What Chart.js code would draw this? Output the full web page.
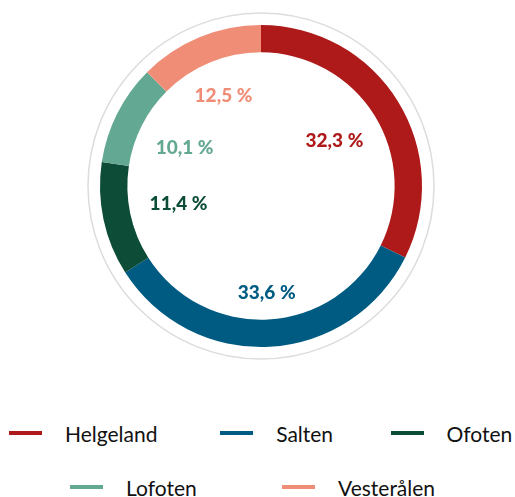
<!DOCTYPE html>
<html>
<head>
<meta charset="utf-8">
<script src="https://cdn.jsdelivr.net/npm/chart.js@4"></script>
<style>
  html, body { margin: 0; padding: 0; background: #fff; }
  body { width: 515px; height: 497px; overflow: hidden; font-family: Lato, sans-serif; }
  #wrap { position: relative; width: 515px; height: 372px; }
  .legend-row { display: flex; height: 28px; align-items: center; font-size: 21px; color: #111; }
  .legend-item { display: flex; align-items: center; }
  .legend-item .mark { width: 33px; height: 4px; margin-right: 23px; }
</style>
</head>
<body>
<div id="wrap"><canvas id="chart" width="515" height="372"></canvas></div>
<div id="legend"></div>
<script>
document.addEventListener('DOMContentLoaded', () => {
    // --- DATA ---
    const regions = ['Helgeland', 'Salten', 'Ofoten', 'Lofoten', 'Vesterålen'];
    const shares = [32.3, 33.6, 11.4, 10.1, 12.5];
    const colors = ['#ad1a19', '#005b82', '#0d4d37', '#63a893', '#f08d76'];

    const fmt = v => v.toFixed(1).replace('.', ',') + ' %';

    // grey ring around the doughnut
    const outerRing = {
        id: 'outerRing',
        beforeDatasetsDraw(chart) {
            const arc = chart.getDatasetMeta(0).data[0];
            if (!arc) return;
            const ctx = chart.ctx;
            ctx.save();
            ctx.beginPath();
            ctx.arc(arc.x, arc.y, arc.outerRadius + 12, 0, Math.PI * 2);
            ctx.strokeStyle = '#dcdcdc';
            ctx.lineWidth = 1.5;
            ctx.stroke();
            ctx.restore();
        }
    };

    // percentage labels inside the hole
    const innerLabels = {
        id: 'innerLabels',
        afterDatasetsDraw(chart) {
            const ctx = chart.ctx;
            ctx.save();
            ctx.font = '900 19px Lato, sans-serif';
            ctx.textAlign = 'center';
            ctx.textBaseline = 'middle';
            chart.getDatasetMeta(0).data.forEach((arc, i) => {
                const mid = (arc.startAngle + arc.endAngle) / 2;
                const dx = Math.cos(mid), dy = Math.sin(mid);
                const txt = fmt(shares[i]);
                const hw = ctx.measureText(txt).width / 2, hh = 5;
                const d = arc.innerRadius - 20 - (hw * Math.abs(dx) + hh * Math.abs(dy));
                ctx.fillStyle = colors[i];
                ctx.fillText(txt, arc.x + dx * d, arc.y + dy * d);
            });
            ctx.restore();
        }
    };

    new Chart(document.getElementById('chart'), {
        type: 'doughnut',
        data: {
            labels: regions,
            datasets: [{
                data: shares,
                backgroundColor: colors,
                borderWidth: 0
            }]
        },
        options: {
            responsive: false,
            animation: false,
            cutout: '83%',
            layout: { padding: { top: 25, bottom: 25, left: 32, right: 25 } },
            plugins: {
                legend: { display: false },
                tooltip: { enabled: false }
            }
        },
        plugins: [outerRing, innerLabels]
    });

    // --- LEGEND (two rows, like the original) ---
    const legendEl = document.getElementById('legend');
    const rows = [
        { idx: [0, 1, 2], start: 9, widths: [212, 171, 125], top: 47 },
        { idx: [3, 4], start: 70, widths: [212, 170], top: 26 }
    ];
    rows.forEach(r => {
        const row = document.createElement('div');
        row.className = 'legend-row';
        row.style.paddingLeft = r.start + 'px';
        row.style.marginTop = r.top + 'px';
        r.idx.forEach((i, k) => {
            const item = document.createElement('div');
            item.className = 'legend-item';
            item.style.width = r.widths[k] + 'px';
            item.innerHTML = `<span class="mark" style="background:${colors[i]}"></span><span>${regions[i]}</span>`;
            row.appendChild(item);
        });
        legendEl.appendChild(row);
    });
});
</script>
</body>
</html>
